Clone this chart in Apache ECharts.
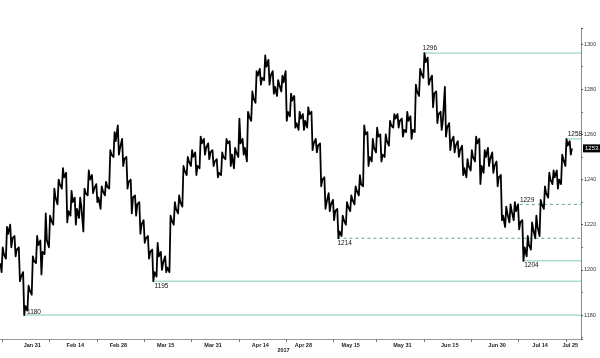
<!DOCTYPE html>
<html><head><meta charset="utf-8">
<script src="https://cdn.jsdelivr.net/npm/echarts@6/dist/echarts.min.js"></script>
<style>html,body{margin:0;padding:0;background:#fff}#c{width:600px;height:358px}</style>
</head><body><div id="c"></div>
<script>
// trading days Jan 20 2017 .. Jul 27 2017 (categories)
const months = ['Jan','Feb','Mar','Apr','May','Jun','Jul','Aug','Sep','Oct','Nov','Dec'];
const categories = [];
for (let d = new Date(Date.UTC(2017,0,20)); d <= new Date(Date.UTC(2017,6,27)); d.setUTCDate(d.getUTCDate()+1)) {
  const w = d.getUTCDay();
  if (w !== 0 && w !== 6) categories.push(months[d.getUTCMonth()] + ' ' + d.getUTCDate());
}
// tick labels and the category slots where they sit in the picture
const xLabels   = ['Jan 31','Feb 14','Feb 28','Mar 15','Mar 31','Apr 14','Apr 28','May 15','May 31','Jun 15','Jun 30','Jul 14','Jul 25'];
const xLabelIdx = [7, 17, 27, 38, 49, 60, 70, 81, 93, 104, 115, 125, 132];
const tickIdx = [0,11,22,33,44,55,66,77,87,98,109,120,131];

const opens = [1203,1207,1216,1214,1209,1197,1184,1191,1204,1211,
1208,1213,1222,1232,1238,1241,1226,1230,1227,1228,
1234,1240,1236,1232,1235,1237,1251,1257,1254,1249,
1239,1232,1229,1220,1214,1208,1199,1206,1203,1201,
1222,1227,1230,1244,1248,1250,1246,1256,1254,1252,
1248,1243,1250,1256,1251,1252,1256,1254,1268,1276,
1286,1285,1290,1286,1281,1282,1283,1270,1275,1265,
1267,1266,1269,1256,1255,1240,1230,1229,1226,1217,
1222,1228,1231,1235,1238,1260,1250,1254,1259,1251,
1257,1264,1267,1266,1262,1266,1262,1279,1287,1292,
1284,1278,1269,1266,1263,1257,1255,1253,1245,1246,
1250,1256,1246,1250,1249,1246,1241,1224,1225,1226,
1226,1221,1210,1211,1218,1219,1229,1234,1240,1241,
1240,1249,1255];
const closes = [1207,1216,1214,1209,1197,1184,1191,1204,1211,1208,
1213,1222,1232,1238,1241,1226,1230,1227,1228,1234,
1240,1236,1232,1235,1237,1251,1257,1254,1249,1239,
1232,1229,1220,1214,1208,1199,1206,1203,1201,1222,
1227,1230,1244,1248,1250,1246,1256,1254,1252,1248,
1243,1250,1256,1251,1252,1256,1254,1268,1276,1286,
1285,1290,1286,1281,1282,1283,1270,1275,1265,1267,
1266,1269,1256,1255,1240,1230,1229,1226,1217,1222,
1228,1231,1235,1238,1260,1250,1254,1259,1251,1257,
1264,1267,1266,1262,1266,1262,1279,1287,1292,1284,
1278,1269,1266,1263,1257,1255,1253,1245,1246,1250,
1256,1246,1250,1249,1246,1241,1224,1225,1226,1226,
1221,1210,1211,1218,1219,1229,1234,1240,1241,1240,
1249,1255,1253.8];
const lows = [1199,1205,1210,1206,1195,1180,1182,1189,1203,1198,
1207,1210,1220,1229,1236,1221,1224,1220,1223,1217,
1233,1234,1230,1227,1233,1236,1250,1251,1246,1236,
1225,1224,1216,1212,1205,1195,1197,1200,1199,1199,
1220,1225,1228,1242,1246,1242,1245,1251,1249,1246,
1241,1242,1249,1246,1245,1250,1251,1248,1266,1274,
1282,1284,1282,1278,1277,1279,1266,1268,1263,1262,
1262,1263,1253,1252,1237,1227,1226,1222,1214,1215,
1220,1226,1229,1233,1237,1246,1248,1252,1248,1250,
1255,1263,1263,1259,1261,1258,1261,1277,1285,1282,
1272,1265,1262,1259,1253,1252,1250,1242,1241,1244,
1248,1238,1243,1246,1243,1237,1222,1219,1221,1222,
1218,1204,1206,1209,1214,1215,1227,1232,1238,1236,
1238,1246,1251];
const highs = [1210,1219,1220,1215,1210,1199,1193,1206,1215,1213,
1225,1224,1236,1240,1245,1243,1235,1232,1232,1236,
1244,1242,1238,1237,1239,1253,1261,1264,1258,1250,
1240,1233,1230,1222,1215,1209,1212,1208,1206,1224,
1230,1233,1246,1250,1253,1252,1259,1258,1256,1253,
1249,1252,1258,1257,1254,1267,1258,1270,1279,1288,
1289,1295,1293,1288,1284,1286,1288,1278,1277,1270,
1269,1272,1270,1258,1256,1241,1234,1231,1227,1224,
1230,1233,1237,1242,1264,1261,1258,1263,1260,1260,
1266,1269,1269,1267,1270,1268,1282,1289,1296,1294,
1286,1279,1270,1281,1265,1259,1257,1255,1249,1253,
1259,1258,1253,1254,1252,1248,1242,1228,1229,1230,
1229,1222,1215,1221,1224,1231,1237,1243,1244,1244,
1251,1258,1257];
const lastPrice = 1253.8;

// annotated levels
const levelValues = [1296, 1258, 1229, 1214, 1204, 1195, 1180];
const levelStart  = [97.7, 131.4, 120.3, 77.9, 121.3, 35.4, 5.3];
const levelDashed = [false, false, true, true, false, false, false];
const levelLabelPos = ['top','top','top','bottom','bottom','bottom','right'];

// price path: each day drawn open -> extreme -> extreme -> close
const pricePath = [];
opens.forEach((o, i) => {
  const up = closes[i] >= o;
  pricePath.push([i - 0.4, o], [i - 0.13, up ? lows[i] : highs[i]], [i + 0.13, up ? highs[i] : lows[i]], [i + 0.4, closes[i]]);
});
const lastIdx = categories.length - 0.5;

const FONT = 'Liberation Sans';
const levelSeries = levelValues.map((v, k) => ({
  type: 'line', xAxisIndex: 1, yAxisIndex: 0,
  data: [[levelStart[k], v], [lastIdx, v]],
  symbol: 'circle', symbolSize: 0.1,
  itemStyle: { color: 'rgba(0,0,0,0)' },
  lineStyle: levelDashed[k] ? { color: '#5fa88c', width: 1, type: [3, 3] } : { color: '#7fcfad', width: 1 },
  silent: true, animation: false, z: 1,
  label: {
    show: true,
    position: levelLabelPos[k],
    align: 'left',
    distance: levelLabelPos[k] === 'right' ? 2 : 1,
    offset: levelLabelPos[k] === 'right' ? [0, -3] : [0, 0],
    formatter: p => p.dataIndex === 0 ? String(v) : '',
    fontSize: 6.5, color: '#111', fontFamily: FONT
  }
}));

const chart = echarts.init(document.getElementById('c'), null, { renderer: 'canvas' });
chart.setOption({
  animation: false,
  backgroundColor: '#fff',
  grid: { left: 0, right: 19, top: 28, bottom: 19, containLabel: false, outerBoundsMode: 'none' },
  xAxis: [{
    type: 'category', data: categories, boundaryGap: true,
    axisLine: { show: true, onZero: false, lineStyle: { color: '#999', width: 1 } },
    axisTick: { show: true, alignWithLabel: true, interval: (i) => tickIdx.includes(i), length: 3, lineStyle: { color: '#777' } },
    axisLabel: { interval: 0, formatter: (v, i) => { const k = xLabelIdx.indexOf(i); return k >= 0 ? xLabels[k] : ''; }, fontSize: 5.5, fontWeight: 'bold', color: '#222', margin: 3, fontFamily: FONT },
    splitLine: { show: false },
    name: '2017', nameLocation: 'middle', nameGap: 8, nameMoveOverlap: false,
    nameTextStyle: { fontSize: 5.5, fontWeight: 'bold', color: '#222', fontFamily: FONT, padding: [0, 14, 0, 0] }
  }, {
    type: 'value', min: -0.5, max: categories.length - 0.5, show: false,
    axisLine: { onZero: false }
  }],
  yAxis: {
    type: 'value', position: 'right', min: 1169.4, max: 1307.1, splitNumber: 7,
    axisLine: { show: true, onZero: false, lineStyle: { color: '#888', width: 1 } },
    axisTick: { show: true, length: 2, lineStyle: { color: '#555' } },
    minorTick: { show: true, splitNumber: 2, length: 2, lineStyle: { color: '#777' } },
    splitLine: { show: false },
    axisLabel: { fontSize: 5.5, color: '#333', margin: 3, showMinLabel: false, showMaxLabel: false, fontFamily: FONT, formatter: v => String(v) }
  },
  series: [{
    type: 'line', xAxisIndex: 1, yAxisIndex: 0, data: pricePath,
    symbol: 'none', z: 3, silent: true,
    lineStyle: { color: '#000', width: 1.8, join: 'round' },
    markLine: {
      silent: true, symbol: 'none', animation: false,
      data: [{ yAxis: lastPrice }],
      lineStyle: { color: 'rgba(0,0,0,0)', width: 0.1 },
      label: { show: true, position: 'end', distance: 2, formatter: String(lastPrice), backgroundColor: '#000', color: '#fff', padding: [1, 2], fontSize: 6, fontFamily: FONT }
    }
  }, ...levelSeries]
});
</script></body></html>
